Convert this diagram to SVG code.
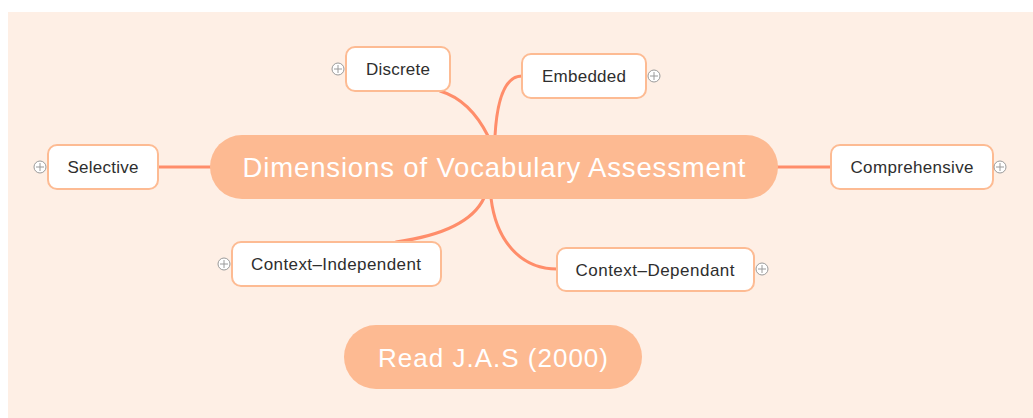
<svg xmlns="http://www.w3.org/2000/svg" width="1033" height="418" viewBox="0 0 1033 418">
<style>
.node rect{fill:#ffffff;stroke:#fdbb93;stroke-width:2}
.node text{font-family:"Liberation Sans",Arial,sans-serif;font-size:17px;fill:#2e2e2e;text-anchor:middle}
.main rect{fill:#fdba92}
.main text{font-family:"Liberation Sans",Arial,sans-serif;fill:#ffffff;text-anchor:middle}
.plus circle{fill:#ffffff;stroke:#9a9a9a;stroke-width:1}
.plus path{stroke:#9a9a9a;stroke-width:1;fill:none}
#connectors path{fill:none;stroke:#ff8d6a;stroke-width:3;stroke-linecap:round}
</style>
<defs>
<g id="plusIcon" class="plus"><circle cx="0" cy="0" r="6"/><path d="M-4,0H4M0,-4V4"/></g>
</defs>
<rect x="8" y="12" width="1025" height="406" fill="#feefe5"/>
<g id="connectors">
<path d="M158,167H212"/>
<path d="M776,167H831"/>
<path d="M488,136 Q470,100 440,91"/>
<path d="M495,136 C497,100 505,76 522,76"/>
<path d="M484,198 Q468,232 396,242"/>
<path d="M491,198 C496,240 520,269 557,269"/>
</g>
<g id="central" class="main">
<rect x="210" y="135" width="568" height="64" rx="32"/>
<text x="494" y="177" font-size="27.5" textLength="503" lengthAdjust="spacing">Dimensions of Vocabulary Assessment</text>
</g>
<g id="read" class="main">
<rect x="344" y="325" width="298" height="64" rx="32"/>
<text x="493" y="367" font-size="26" textLength="230" lengthAdjust="spacing">Read J.A.S (2000)</text>
</g>
<g id="discrete" class="node">
<rect x="346" y="47" width="104" height="44" rx="9"/>
<text x="398" y="75" textLength="64" lengthAdjust="spacing">Discrete</text>
<use href="#plusIcon" x="338" y="69"/>
</g>
<g id="embedded" class="node">
<rect x="522" y="54" width="124" height="44" rx="9"/>
<text x="584" y="82" textLength="84" lengthAdjust="spacing">Embedded</text>
<use href="#plusIcon" x="654" y="76"/>
</g>
<g id="selective" class="node">
<rect x="48" y="145" width="110" height="44" rx="9"/>
<text x="103" y="173" textLength="71" lengthAdjust="spacing">Selective</text>
<use href="#plusIcon" x="40" y="167"/>
</g>
<g id="comprehensive" class="node">
<rect x="831" y="145" width="162" height="44" rx="9"/>
<text x="912" y="173" textLength="123" lengthAdjust="spacing">Comprehensive</text>
<use href="#plusIcon" x="1000" y="167"/>
</g>
<g id="context-independent" class="node">
<rect x="232" y="242" width="209" height="44" rx="9"/>
<text x="336" y="270" textLength="170" lengthAdjust="spacing">Context–Independent</text>
<use href="#plusIcon" x="224" y="264"/>
</g>
<g id="context-dependant" class="node">
<rect x="557" y="248" width="197" height="43" rx="9"/>
<text x="655" y="276" textLength="159" lengthAdjust="spacing">Context–Dependant</text>
<use href="#plusIcon" x="762" y="269"/>
</g>
</svg>
